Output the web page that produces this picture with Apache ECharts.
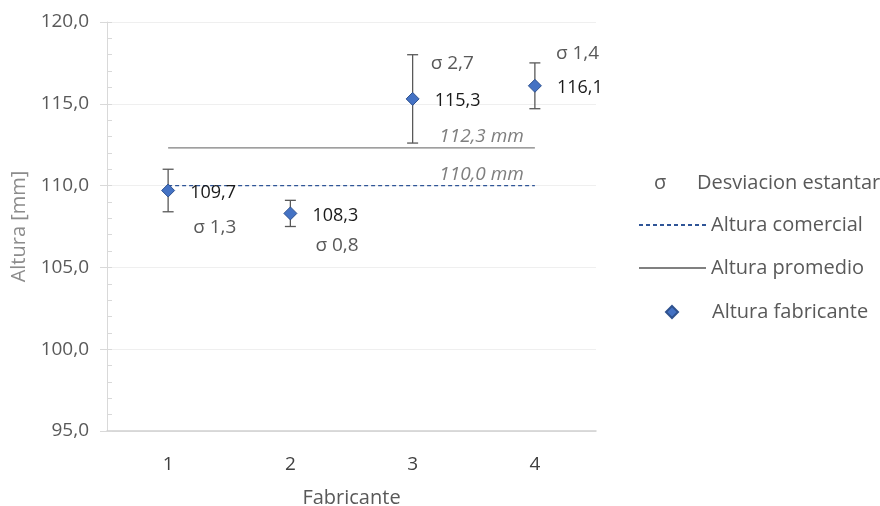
<!DOCTYPE html>
<html>
<head>
<meta charset="utf-8">
<script src="https://cdn.jsdelivr.net/npm/echarts@6/dist/echarts.min.js"></script>
<style>html,body{margin:0;padding:0;background:#fff}#c{width:880px;height:506px}</style>
</head>
<body>
<div id="c"></div>
<script>
const categories = ['1', '2', '3', '4'];
const alturaFabricante = [109.7, 108.3, 115.3, 116.1];
const desviacion = [1.3, 0.8, 2.7, 1.4];
const alturaPromedio = [112.3, 112.3, 112.3, 112.3];
const alturaComercial = [110.0, 110.0, 110.0, 110.0];
const yMin = 95, yMax = 120, yStep = 5;

const sans = '"Open Sans", "Noto Sans", sans-serif';
const fmt = v => v.toFixed(1).replace('.', ',');
// label placement (pixels) for the σ annotations
const sigmaOffset = [[25, 37], [25, 32], [18, -35], [21, -32]];

const chart = echarts.init(document.getElementById('c'));
chart.setOption({
  animation: false,
  textStyle: { fontFamily: sans },
  grid: { left: 107, right: 284, top: 22, bottom: 75, outerBoundsMode: 'none', containLabel: false },
  legend: [
    {
      data: [{ name: 'Desviacion estantar', icon: 'none' }],
      left: 639, top: 172, padding: 0, itemWidth: 10, itemHeight: 12,
      formatter: '{s|σ}{t|Desviacion estantar}',
      textStyle: { color: '#595959', fontSize: 20, lineHeight: 22, fontFamily: sans,
        rich: { s: { width: 43, fontSize: 20, color: '#595959', fontFamily: sans },
                t: { fontSize: 20, color: '#595959', fontFamily: sans } } },
      selectedMode: false
    },
    {
      data: [
        { name: 'Altura comercial', itemStyle: { opacity: 0 } },
        { name: 'Altura promedio', itemStyle: { opacity: 0 } }
      ],
      orient: 'vertical', left: 638, top: 214, padding: 0,
      itemWidth: 67, itemHeight: 12, itemGap: 21,
      textStyle: { color: '#595959', fontSize: 20, lineHeight: 22, fontFamily: sans },
      selectedMode: false
    },
    {
      data: ['Altura fabricante'],
      left: 665, top: 301, padding: 0, itemWidth: 12, itemHeight: 12,
      formatter: '{t|{name}}',
      textStyle: { color: '#595959', fontSize: 20, lineHeight: 22, fontFamily: sans,
        rich: { t: { padding: [0, 0, 0, 29], fontSize: 20, color: '#595959', fontFamily: sans } } },
      selectedMode: false
    }
  ],
  xAxis: {
    type: 'category', data: categories,
    name: 'Fabricante', nameLocation: 'middle', nameGap: 57,
    nameTextStyle: { color: '#595959', fontSize: 20, fontFamily: sans },
    axisLine: { lineStyle: { color: '#d0d0d0', width: 1.5 } },
    axisTick: { show: false },
    axisLabel: { color: '#404040', fontSize: 19, margin: 24, fontFamily: sans }
  },
  yAxis: [
    {
      type: 'value', min: yMin, max: yMax, interval: yStep,
      name: 'Altura [mm]', nameLocation: 'middle', nameGap: 76,
      nameTextStyle: { color: '#8c8c8c', fontSize: 20, fontFamily: sans },
      axisLine: { show: true, lineStyle: { color: '#d9d9d9' } },
      axisTick: { show: true, length: 7, lineStyle: { color: '#d9d9d9' } },
      axisLabel: { color: '#595959', fontSize: 19, margin: 18, fontFamily: sans, formatter: v => fmt(v) },
      splitLine: { lineStyle: { color: '#efefef' } }
    },
    {
      type: 'value', min: yMin, max: yMax, interval: yStep, position: 'left',
      axisLine: { show: false },
      axisTick: { show: true, inside: true, length: 5, lineStyle: { color: '#d9d9d9' } },
      minorTick: { show: true, splitNumber: 5, length: 5, lineStyle: { color: '#d9d9d9' } },
      axisLabel: { show: false },
      splitLine: { show: false }
    }
  ],
  series: [
    {
      name: 'Desviacion estantar', type: 'custom', z: 3,
      data: categories.map((c, i) => [i, alturaFabricante[i], desviacion[i]]),
      encode: { x: 0, y: 1 },
      renderItem: function (params, api) {
        const x = api.value(0), m = api.value(1), s = api.value(2);
        const c = api.coord([x, m]);
        const hi = api.coord([x, m + s]);
        const lo = api.coord([x, m - s]);
        const cap = 5.5;
        const off = sigmaOffset[params.dataIndex];
        const st = { stroke: '#595959', lineWidth: 1.3 };
        return {
          type: 'group',
          children: [
            { type: 'line', shape: { x1: c[0], y1: hi[1], x2: c[0], y2: lo[1] }, style: st },
            { type: 'line', shape: { x1: c[0] - cap, y1: hi[1], x2: c[0] + cap, y2: hi[1] }, style: st },
            { type: 'line', shape: { x1: c[0] - cap, y1: lo[1], x2: c[0] + cap, y2: lo[1] }, style: st },
            { type: 'text', x: c[0] + off[0], y: c[1] + off[1],
              style: { text: 'σ ' + fmt(s), fill: '#595959', fontSize: 19, fontFamily: sans,
                       align: 'left', verticalAlign: 'middle' } }
          ]
        };
      }
    },
    {
      name: 'Altura comercial', type: 'line', data: alturaComercial, symbol: 'none', z: 2,
      color: '#2F5597',
      lineStyle: { color: '#2F5597', type: [4, 3], width: 1.2 },
      endLabel: { show: true, formatter: p => fmt(p.value) + ' mm', align: 'right', verticalAlign: 'bottom',
        distance: 0, offset: [-11, -2], color: '#7f7f7f', fontStyle: 'italic', fontSize: 19, fontFamily: sans }
    },
    {
      name: 'Altura promedio', type: 'line', data: alturaPromedio, symbol: 'none', z: 2,
      color: '#808080',
      lineStyle: { color: '#808080', width: 1.3 },
      endLabel: { show: true, formatter: p => fmt(p.value) + ' mm', align: 'right', verticalAlign: 'bottom',
        distance: 0, offset: [-11, -2], color: '#7f7f7f', fontStyle: 'italic', fontSize: 19, fontFamily: sans }
    },
    {
      name: 'Altura fabricante', type: 'scatter', data: alturaFabricante, z: 5,
      symbol: 'diamond', symbolSize: 13,
      itemStyle: { color: '#4472C4', borderColor: '#2F528F', borderWidth: 1, opacity: 1 },
      label: { show: true, position: 'right', distance: 15, offset: [0, 2], color: '#1a1a1a',
        fontSize: 18, fontFamily: sans, formatter: p => fmt(p.value) }
    }
  ]
});
</script>
</body>
</html>
